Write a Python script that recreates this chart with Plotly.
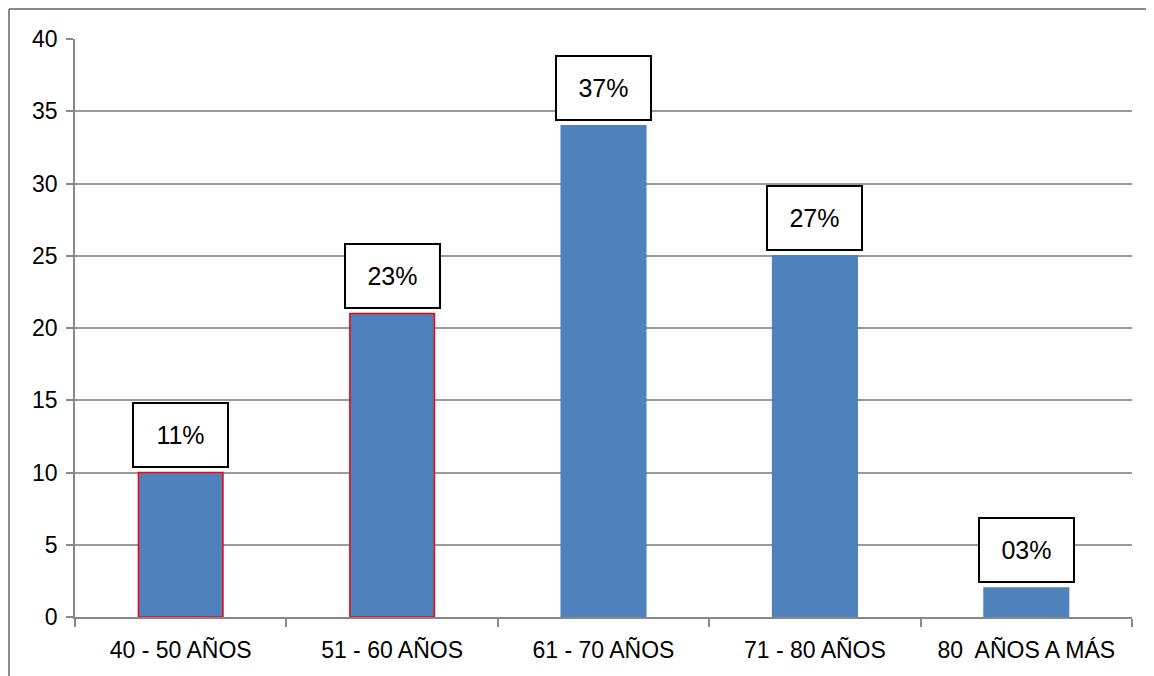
import plotly.graph_objects as go

categories = ["40 - 50 AÑOS", "51 - 60 AÑOS", "61 - 70 AÑOS", "71 - 80 AÑOS", "80  AÑOS A MÁS"]
values = [10, 21, 34, 25, 2]
pct_labels = ["11%", "23%", "37%", "27%", "03%"]
outline_colors = ["#FF0000", "#FF0000", "#4F81BD", "#4F81BD", "#4F81BD"]

FONT = "Liberation Sans"

fig = go.Figure()
fig.add_trace(go.Bar(
    x=categories, y=values, width=0.4,
    marker=dict(color="#4F81BD", line=dict(color=outline_colors, width=1.5)),
))

for c, v, t in zip(categories, values, pct_labels):
    fig.add_annotation(
        x=c, y=v, xref="x", yref="y", text=t, showarrow=False,
        yanchor="bottom", yshift=5, width=93, height=62,
        bordercolor="#000000", borderwidth=2, borderpad=0, bgcolor="white",
        font=dict(family=FONT, size=25, color="#000000"),
    )

# outer frame (only left and top edges are visible in the reference)
FX = -0.0625
FY = 1.0519
fig.add_shape(type="line", xref="paper", yref="paper",
              x0=FX, x1=FX, y0=-0.2, y1=FY,
              line=dict(color="#888888", width=2), layer="below")
fig.add_shape(type="line", xref="paper", yref="paper",
              x0=FX, x1=1.03, y0=FY, y1=FY,
              line=dict(color="#888888", width=2), layer="below")

fig.update_layout(
    width=1146, height=668,
    margin=dict(l=67, r=22, t=31, b=59),
    plot_bgcolor="white", paper_bgcolor="white",
    showlegend=False, bargap=0.6,
    font=dict(family=FONT, size=23, color="#000000"),
)
fig.update_yaxes(
    range=[0, 40], dtick=5, showgrid=True, gridcolor="#9A9A9A", gridwidth=1.5,
    showline=True, linecolor="#888888", linewidth=1.5,
    ticks="outside", ticklen=7, tickcolor="#888888", tickwidth=1.5,
    tickfont=dict(family=FONT, size=23, color="#000000"), zeroline=False,
    ticklabelstandoff=4,
)
fig.update_xaxes(
    showline=True, linecolor="#888888", linewidth=1.5,
    ticks="outside", ticklen=8, tickcolor="#888888", tickwidth=1.5,
    tickson="boundaries", showgrid=False,
    tickfont=dict(family=FONT, size=23, color="#000000"),
    ticklabelstandoff=12,
)

fig.write_html("out.html")
